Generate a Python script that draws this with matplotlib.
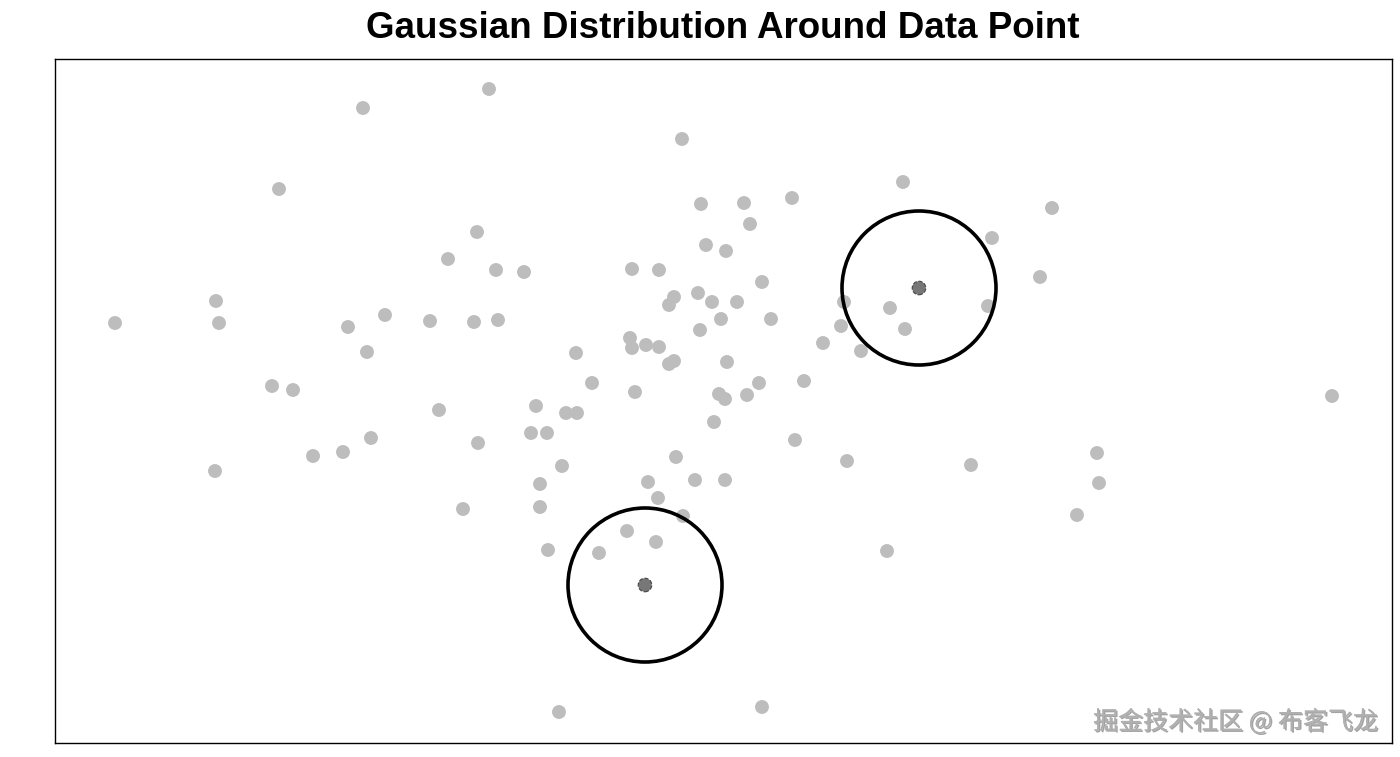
import matplotlib.pyplot as plt
import matplotlib.patheffects as pe
from matplotlib.patches import Circle

# scatter points (x, y), y measured upward
xs = [363, 489, 682, 279, 903, 1052, 701, 744, 792, 750, 992, 477, 448, 706, 726,
      632, 659, 496, 524, 1040, 762, 216, 219, 115, 698, 674, 669, 712, 737, 844,
      890, 988, 721, 700, 771, 841, 905, 348, 385, 430, 474, 498, 630, 632, 646,
      659, 669, 674, 727, 823, 861, 367, 576, 272, 293, 592, 635, 719, 725, 747,
      759, 804, 1332, 439, 536, 566, 577, 714, 531, 547, 371, 478, 795, 313, 343,
      215, 562, 676, 847, 971, 1097, 1099, 540, 648, 695, 725, 658, 463, 540, 683,
      1077, 627, 656, 599, 548, 887, 559, 762]
ys = [108, 89, 139, 189, 182, 208, 204, 203, 198, 224, 238, 232, 259, 245, 251,
      269, 270, 270, 272, 277, 282, 301, 323, 323, 293, 297, 305, 302, 302, 302,
      308, 306, 319, 330, 319, 326, 329, 327, 315, 321, 322, 320, 338, 348, 345,
      347, 364, 361, 362, 343, 351, 352, 353, 386, 390, 383, 392, 394, 399, 395,
      383, 381, 396, 410, 406, 413, 413, 422, 433, 433, 438, 443, 440, 456, 452,
      471, 466, 457, 461, 465, 453, 483, 484, 482, 480, 480, 498, 509, 507, 516,
      515, 531, 542, 553, 550, 551, 712, 707]
ys = [757 - v for v in ys]

# highlighted points and the radius of the circle around them
hx = [919, 645]
hy = [757 - 288, 757 - 585]
radius = 77

fig = plt.figure(figsize=(14, 7.57), dpi=100)
ax = fig.add_axes([55 / 1400, 14 / 757, 1337 / 1400, 684 / 757])

ax.scatter(xs, ys, s=100, color='#bdbdbd', edgecolors='none', zorder=2)
ax.scatter(hx, hy, s=95, color='#777777', edgecolors='#444444',
           linewidths=0.8, linestyles='--', zorder=3)
for cx, cy in zip(hx, hy):
    ax.add_patch(Circle((cx, cy), radius, fill=False, edgecolor='black',
                        linewidth=2.6, zorder=4))

ax.set_xlim(55, 1392)
ax.set_ylim(14, 698)
ax.set_xticks([])
ax.set_yticks([])
for sp in ax.spines.values():
    sp.set_linewidth(1.0)
    sp.set_color('black')

fig.text(723 / 1400, 1 - 29 / 757, "Gaussian Distribution Around Data Point",
         ha='center', va='center', fontsize=26.5, fontweight='bold',
         family='Liberation Sans')

fig.text(1378 / 1400, 1 - 722 / 757, "掘金技术社区 @ 布客飞龙",
         ha='right', va='center', fontsize=18, color='#b0b0b0',
         family=['Noto Sans CJK SC', 'DejaVu Sans'],
         path_effects=[pe.withSimplePatchShadow(offset=(1, -1),
                                                shadow_rgbFace='#666666',
                                                alpha=0.6), pe.Normal()])

plt.savefig('out.png', dpi=100)
